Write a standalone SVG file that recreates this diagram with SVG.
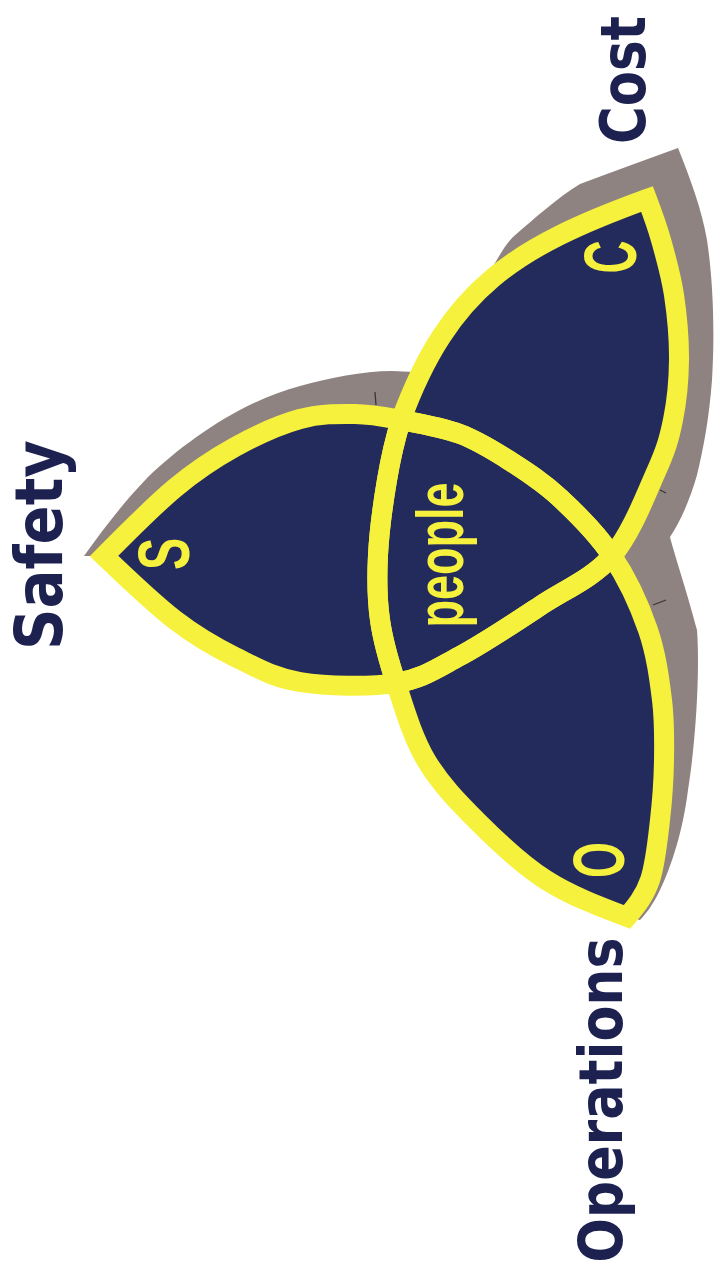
<svg xmlns="http://www.w3.org/2000/svg" width="720" height="1276" viewBox="0 0 720 1276">
<defs>
<style>
.fill{fill:#232a5c;stroke:none}
.edge{fill:none;stroke:#f6f13c;stroke-width:20;stroke-linejoin:miter;stroke-miterlimit:6}
.shadow{fill:#8e8381}
.tick{stroke:#3a3436;stroke-width:1.3;fill:none}
.lab{font-family:"DejaVu Sans Condensed","DejaVu Sans",sans-serif;font-weight:bold;fill:#1c2150;text-anchor:middle}
.let{font-family:"Liberation Sans",Arial,sans-serif;font-weight:bold;fill:#f6f13c;text-anchor:middle}
</style>
<path id="shape-s" d="M104,556 C128.6,531.1 153.2,506.2 175,488 C196.8,469.8 214.2,458.5 235,447 C255.8,435.5 280,424.5 300,419 C320,413.5 338.2,413.8 355,414 C371.8,414.2 383.5,416.7 401,420 C418.5,423.3 441.8,427.2 460,434 C478.2,440.8 493.3,450.3 510,461 C526.7,471.7 542.8,482 560,498 C577.2,514 598.3,535 612,556 C592.7,578.3 565.3,589.3 540,606 C514.7,622.7 484,643.2 460,656 C436,668.8 422.7,678.7 396,683 C369.3,687.3 326.8,686.3 300,682 C273.2,677.7 255.8,667.3 235,657 C214.2,646.7 196.8,636.8 175,620 C153.2,603.2 128.6,579.6 104,556 Z"/>
<path id="shape-c" d="M647,199 C515.4,246.9 448.9,288.4 401,420 C393.7,443.3 390.8,457.5 387,480 C383.2,502.5 379.2,531.7 378,555 C376.8,578.3 377,598.7 380,620 C383,641.3 388.3,659.7 396,683 C422.7,678.7 436,668.8 460,656 C484,643.2 514.7,622.7 540,606 C565.3,589.3 592.7,578.3 612,556 C631.3,533.7 645.8,494.7 656,472 C666.2,449.3 669.2,438.7 673,420 C676.8,401.3 678.8,380.8 679,360 C679.2,339.2 677,315 674,295 C671,275 665.5,256 661,240 C656.5,224 651.75,211.5 647,199 Z"/>
<path id="shape-o" d="M401,420 C393.7,443.3 390.8,457.5 387,480 C383.2,502.5 379.2,531.7 378,555 C376.8,578.3 377,598.7 380,620 C383,641.3 388.3,659.7 396,683 C403.7,706.3 412.3,736.8 426,760 C439.7,783.2 458,802 478,822 C498,842 521.2,864.2 546,880 C570.8,895.8 598.9,906.4 627,917 C635.8,906.6 644.5,896.2 650,880 C655.5,863.8 657.7,840 660,820 C662.3,800 663.7,780 664,760 C664.3,740 664.7,721.7 662,700 C659.3,678.3 656.2,653.8 648,630 C639.8,606.2 627.7,579 612,556 C598.3,535 577.2,514 560,498 C542.8,482 526.7,471.7 510,461 C493.3,450.3 478.2,440.8 460,434 C441.8,427.2 418.5,423.3 401,420 Z"/>
</defs>
<rect x="0" y="0" width="720" height="1276" fill="#ffffff"/>
<g id="shadow">
<path class="shadow" d="M84,556 C104,528 124,502 148,477 C185,442 240,402 300,386 C330,378 362,371 392,371 L414,372 L450,325 L476,294 C490,275 500,250 513,237 C535,218 557,198 580,184 C612,172 645,160 678,148 C690,178 702,210 707,240 C713,280 715,330 712,380 C709,420 703,450 697,475 C690,500 680,522 670,537 C676,560 688,595 697,630 C700,670 696,740 688,790 C683,830 672,865 660,890 C654,903 646,914 640,920 L627,917 L560,850 L420,690 L300,640 L100,556 Z"/>
<path class="tick" d="M375,392 L376,405 M660,490 L666,493 M653,605 L666,600"/>
</g>
<g id="lens-s">
<use href="#shape-s" class="fill"/>
<text class="let" font-size="72" transform="translate(189,554) rotate(-90) scale(0.67,1)">S</text>
</g>
<g id="lens-c">
<use href="#shape-c" class="fill"/>
<text class="let" font-size="74" transform="translate(636,257) rotate(-90) scale(0.62,1)">C</text>
</g>
<g id="lens-o">
<use href="#shape-o" class="fill"/>
<text class="let" font-size="72" transform="translate(624,860) rotate(-90) scale(0.64,1)">O</text>
</g>
<g id="connectors">
<use href="#shape-s" class="edge"/>
<use href="#shape-c" class="edge"/>
<use href="#shape-o" class="edge"/>
</g>
<g id="people">
<text class="let" font-size="66" textLength="145" lengthAdjust="spacingAndGlyphs" transform="translate(463,555) rotate(-90)">people</text>
</g>
<g id="label-safety">
<text class="lab" font-size="66" textLength="210" lengthAdjust="spacingAndGlyphs" transform="translate(62,545) rotate(-90)">Safety</text>
</g>
<g id="label-cost">
<text class="lab" font-size="62" textLength="128" lengthAdjust="spacingAndGlyphs" transform="translate(645,80) rotate(-90)">Cost</text>
</g>
<g id="label-operations">
<text class="lab" font-size="60" textLength="325" lengthAdjust="spacingAndGlyphs" transform="translate(622,1100) rotate(-90)">Operations</text>
</g>
</svg>
